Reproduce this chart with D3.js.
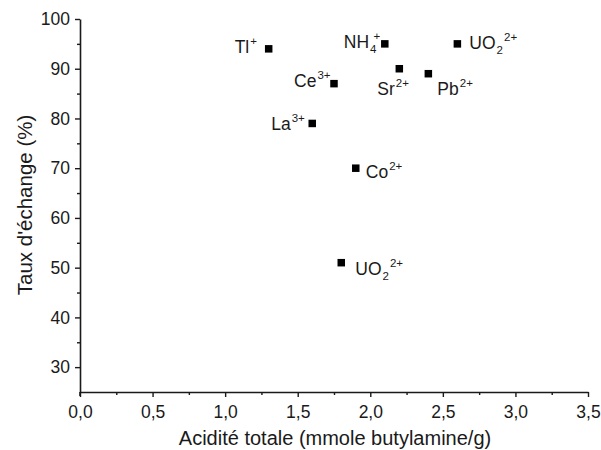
<!DOCTYPE html>
<html>
<head>
<meta charset="utf-8">
<script src="https://cdn.jsdelivr.net/npm/d3@7"></script>
<style>
  html, body { margin: 0; padding: 0; background: #fff; }
  svg { display: block; font-family: "Liberation Sans", Arial, Helvetica, sans-serif; }
</style>
</head>
<body>
<svg id="chart" width="601" height="450"></svg>
<script>
// ---- data ----
const acidity = [1.3, 2.1, 2.6, 1.75, 2.2, 2.4, 1.6, 1.9, 1.8];
const exchangeRate = [94, 95, 95, 87, 90, 89, 79, 70, 51];
const ionBase = ["Tl", "NH", "UO", "Ce", "Sr", "Pb", "La", "Co", "UO"];
const ionSub = ["", "4", "2", "", "", "", "", "", "2"];
const ionSup = ["+", "+", "2+", "3+", "2+", "2+", "3+", "2+", "2+"];
const xTicks = [0, 0.5, 1.0, 1.5, 2.0, 2.5, 3.0, 3.5];
const yTicks = [30, 40, 50, 60, 70, 80, 90, 100];
const xTitle = "Acidité totale (mmole butylamine/g)";
const yTitle = "Taux d'échange (%)";

// label placement relative to each point (layout, px)
const labelDx = [-34, -41, 12, -40, -22, 9, -41, 10, 14];
const labelDy = [4, 4, 5, 3, 26, 21, 7, 10, 12];
const supBack = [0, -4, 0, 0, 0, 0, 0, 0, 0];

// ---- layout ----
const svg = d3.select("#chart");
const mLeft = 80, mRight = 588, mTop = 19, mBottom = 392;
const ink = "#1a1a1a";

const x = d3.scaleLinear().domain([0, 3.5]).range([mLeft, mRight]);
const y = d3.scaleLinear().domain([25, 100]).range([mBottom, mTop]);

const fmt = d => d3.format(".1f")(d).replace(".", ",");

// x axis
const xAxis = d3.axisBottom(x).tickValues(xTicks).tickFormat(fmt).tickSize(5).tickSizeOuter(0).tickPadding(9);
const gx = svg.append("g").attr("transform", `translate(0,${mBottom})`).call(xAxis);
gx.select(".domain").attr("stroke", ink).attr("stroke-width", 1.6);
gx.selectAll(".tick line").attr("stroke", ink).attr("stroke-width", 1.4);
gx.selectAll(".tick text").attr("fill", ink).attr("font-size", 17.5).attr("font-family", "Liberation Sans, Arial, sans-serif");
const xMinor = d3.axisBottom(x).tickValues(d3.range(0.25, 3.5, 0.5)).tickFormat("").tickSize(3).tickSizeOuter(0);
const gxm = svg.append("g").attr("transform", `translate(0,${mBottom})`).call(xMinor);
gxm.select(".domain").remove();
gxm.selectAll(".tick line").attr("stroke", ink).attr("stroke-width", 1.4);

// y axis
const yAxis = d3.axisLeft(y).tickValues(yTicks).tickFormat(d3.format("d")).tickSize(5).tickSizeOuter(0).tickPadding(5);
const gy = svg.append("g").attr("transform", `translate(${mLeft},0)`).call(yAxis);
gy.select(".domain").attr("stroke", ink).attr("stroke-width", 1.6);
gy.selectAll(".tick line").attr("stroke", ink).attr("stroke-width", 1.4);
gy.selectAll(".tick text").attr("fill", ink).attr("font-size", 17.5).attr("font-family", "Liberation Sans, Arial, sans-serif");
const yMinor = d3.axisLeft(y).tickValues(d3.range(35, 100, 10)).tickFormat("").tickSize(3).tickSizeOuter(0);
const gym = svg.append("g").attr("transform", `translate(${mLeft},0)`).call(yMinor);
gym.select(".domain").remove();
gym.selectAll(".tick line").attr("stroke", ink).attr("stroke-width", 1.4);

// corner extension of y axis below x axis
svg.append("line").attr("x1", mLeft).attr("x2", mLeft).attr("y1", mBottom).attr("y2", mBottom + 4)
  .attr("stroke", ink).attr("stroke-width", 1.6);

// axis titles
svg.append("text").attr("x", (mLeft + mRight) / 2 + 1).attr("y", 445)
  .attr("text-anchor", "middle").attr("font-size", 20).attr("fill", ink).text(xTitle);
svg.append("text").attr("transform", `translate(32,205) rotate(-90)`)
  .attr("text-anchor", "middle").attr("font-size", 20.5).attr("fill", ink).text(yTitle);

// points
const pts = acidity.map((a, i) => ({ a, v: exchangeRate[i], i }));
const sz = 7.5;
svg.append("g").selectAll("rect").data(pts).join("rect")
  .attr("x", d => x(d.a) - sz / 2).attr("y", d => y(d.v) - sz / 2)
  .attr("width", sz).attr("height", sz).attr("fill", "#000");

// labels
const lg = svg.append("g").attr("fill", ink).attr("font-size", 17.5);
pts.forEach(d => {
  const i = d.i;
  const t = lg.append("text")
    .attr("x", x(d.a) + labelDx[i]).attr("y", y(d.v) + labelDy[i]);
  t.append("tspan").text(ionBase[i]);
  let shift = 0;
  if (ionSub[i]) {
    t.append("tspan").attr("font-size", 11.5).attr("dy", 5).attr("dx", 1).text(ionSub[i]);
    shift = 5;
  }
  t.append("tspan").attr("font-size", 11.5).attr("dy", -shift - 8).attr("dx", supBack[i] + 1).text(ionSup[i]);
});
</script>
</body>
</html>
